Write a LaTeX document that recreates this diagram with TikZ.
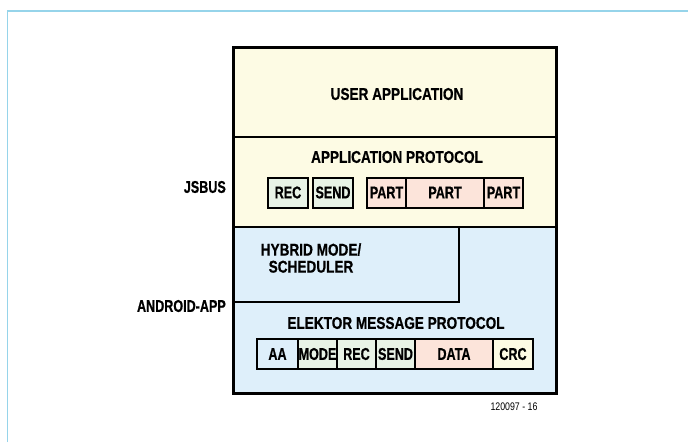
\documentclass[tikz,border=0pt]{standalone}
\usepackage{fontspec}
\setmainfont{Liberation Sans}
\newfontfamily\widefont{Liberation Sans}[FakeStretch=0.80]
\newfontfamily\heavywide{Liberation Sans Bold}[FakeStretch=0.80, FakeBold=0.6]
\newfontfamily\heavynarrow{Liberation Sans Bold}[FakeStretch=0.74, FakeBold=0.6]
\usetikzlibrary{positioning}
\definecolor{layeryel}{RGB}{253,251,228}
\definecolor{layerblue}{RGB}{222,239,250}
\definecolor{cellgreen}{RGB}{232,243,230}
\definecolor{cellpink}{RGB}{252,228,218}
\definecolor{framecol}{RGB}{150,212,234}
\tikzset{
  layer/.style    = {rectangle, draw=black, line width=2pt, inner sep=0pt,
                     outer sep=0pt, anchor=north west},
  titletxt/.style = {inner sep=1pt, font=\heavywide\fontsize{17}{17}\selectfont},
  sidetxt/.style  = {inner sep=1pt, anchor=east,
                     font=\heavynarrow\fontsize{17}{17}\selectfont},
  cell/.style     = {rectangle, draw=black, line width=2pt, inner sep=0pt, outer sep=0pt,
                     minimum height=30pt, font=\heavynarrow\fontsize{17}{17}\selectfont},
  greencell/.style= {cell, fill=cellgreen},
  pinkcell/.style = {cell, fill=cellpink},
  bluecell/.style = {cell, fill=layerblue},
  yelcell/.style  = {cell, fill=layeryel},
  outerline/.style= {draw=black, line width=3pt}
}

\begin{document}
\begin{tikzpicture}[x=1pt, y=-1pt]
  \useasboundingbox (0,0) rectangle (688,442);
  % ---- frame ----
  \draw[framecol, line width=1.3pt] (7.5,442) -- (7.5,11) -- (688,11);
  % ---- layers ----
  \node[layer, fill=layeryel, minimum width=323pt, minimum height=90pt] (userapp) at (233,47) {};
  \node[layer, fill=layeryel, minimum width=323pt, minimum height=90pt] (appproto) at (233,137) {};
  \node[layer, fill=layerblue, minimum width=323pt, minimum height=166pt] (android) at (233,227) {};
  \node[layer, fill=layerblue, minimum width=226pt, minimum height=75pt] (hybrid) at (233,227) {};
  \draw[outerline] (userapp.north west) rectangle (android.south east);
  % ---- layer titles ----
  \node[titletxt] (usertitle) at (397,94) {USER APPLICATION};
  \node[titletxt] (apptitle) at (397,157) {APPLICATION PROTOCOL};
  \node[titletxt, align=center] (hybtitle) at (311,258) {HYBRID MODE/\\SCHEDULER};
  \node[titletxt] (msgtitle) at (396,323) {ELEKTOR MESSAGE PROTOCOL};
  % ---- side labels ----
  \node[sidetxt] (jsbus) at (227,187) {JSBUS};
  \node[sidetxt] (andapp) at (227,306) {ANDROID-APP};
  % ---- application protocol cells ----
  \node[greencell, minimum width=40pt] (arec)  at (288,192.5)   {REC};
  \node[greencell, minimum width=40pt] (asend) at (333,192.5)   {SEND};
  \node[pinkcell,  minimum width=39pt] (part1) at (386.5,192.5) {PART};
  \node[pinkcell,  minimum width=78pt] (part2) at (445,192.5)   {PART};
  \node[pinkcell,  minimum width=39pt] (part3) at (503.5,192.5) {PART};
  % ---- message protocol cells ----
  \node[bluecell,  minimum width=41pt] (maa)   at (277.5,354) {AA};
  \node[greencell, minimum width=39pt] (mmode) at (317.5,354) {MODE};
  \node[greencell, minimum width=39pt] (mrec)  at (356.5,354) {REC};
  \node[greencell, minimum width=39pt] (msend) at (395.5,354) {SEND};
  \node[pinkcell,  minimum width=78pt] (mdata) at (454,354)   {DATA};
  \node[yelcell,   minimum width=40pt] (mcrc)  at (513,354)   {CRC};
  % ---- figure number ----
  \node[font=\widefont\fontsize{11}{13}\selectfont] (fignum) at (514,407) {120097 - 16};
\end{tikzpicture}
\end{document}
